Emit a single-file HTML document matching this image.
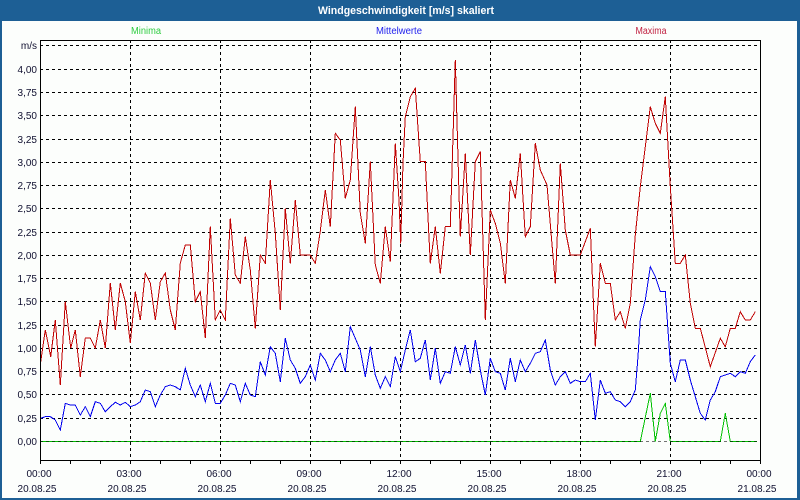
<!DOCTYPE html>
<html><head><meta charset="utf-8"><style>
html,body{margin:0;padding:0;width:800px;height:500px;overflow:hidden;background:#fcfefc;}
svg{display:block;}
text{font-family:"Liberation Sans",sans-serif;}
</style></head><body>
<svg width="800" height="500" viewBox="0 0 800 500" xmlns="http://www.w3.org/2000/svg">
<rect x="0" y="0" width="800" height="500" fill="#1d5f95"/>
<rect x="2" y="21" width="795" height="477" fill="#fcfefc"/>
<text x="406" y="14" fill="#ffffff" font-size="11" font-weight="bold" text-anchor="middle" textLength="176" lengthAdjust="spacingAndGlyphs">Windgeschwindigkeit [m/s] skaliert</text>
<text x="146" y="34" fill="#2ecc40" font-size="10" text-anchor="middle" textLength="30" lengthAdjust="spacingAndGlyphs">Minima</text>
<text x="399" y="34" fill="#2020ee" font-size="10" text-anchor="middle" textLength="46" lengthAdjust="spacingAndGlyphs">Mittelwerte</text>
<text x="651" y="34" fill="#c02040" font-size="10" text-anchor="middle" textLength="31" lengthAdjust="spacingAndGlyphs">Maxima</text>
<g stroke="#000" stroke-width="1" stroke-dasharray="3,3" shape-rendering="crispEdges" fill="none">
<path d="M40 45.5H760M40 69.5H760M40 92.5H760M40 115.5H760M40 139.5H760M40 162.5H760M40 185.5H760M40 208.5H760M40 232.5H760M40 255.5H760M40 278.5H760M40 301.5H760M40 325.5H760M40 348.5H760M40 371.5H760M40 394.5H760M40 418.5H760"/>
<path d="M130.5 40V460M220.5 40V460M310.5 40V460M400.5 40V460M490.5 40V460M580.5 40V460M670.5 40V460"/>
</g>
<g fill="none" stroke-width="1" stroke-linejoin="miter" shape-rendering="crispEdges">
<polyline stroke="#00c000" points="40,441.5 640.3,441.5 650.3,393.3 655.3,441.5 660.3,413.3 665.3,403.3 670.3,441.5 720.3,441.5 725.3,413.3 730.3,441.5 757,441.5"/>
<polyline stroke="#0000ee" points="40.7,418.3 45.3,416.7 50.3,416.7 55.3,420 60.3,430 65.3,403.3 70.3,405 75.3,405 80.3,415 85.3,406.7 90.3,416.7 95.3,401.7 100.3,403.3 105.3,411.7 110.3,406.7 115.3,402.3 120.3,405 125.3,402.3 130.3,406.7 135.3,405 140.3,401.7 145.3,390 150.3,391.7 155.3,406.7 160.3,395 165.3,386.7 170.3,385 175.3,386.7 180.3,390 185.3,368.3 190.3,385 195.3,396.7 200.3,385 205.3,401.7 210.3,383.3 215.3,403.3 220.3,403.3 225.3,395 230.3,383.3 235.3,385 240.3,401.7 245.3,383.3 250.3,395 255.3,396.7 260.3,361.7 265.3,375 270.3,346.7 275.3,353.3 280.3,381.7 285.3,338.3 290.3,360 295.3,368.3 300.3,383.3 305.3,376.7 310.3,365 315.3,380 320.3,353.3 325.3,360 330.3,371.7 335.3,360 340.3,353.3 345.3,371.7 350.3,326.7 355.3,338.3 360.3,350 365.3,376.7 370.3,346.7 375.3,375 380.3,388.3 385.3,376.7 390.3,386.7 395.3,356.7 400.3,371.7 405.3,350 410.3,330 415.3,361.7 420.3,358.3 425.3,340 430.3,380 435.3,348.3 440.3,383.3 445.3,371.7 450.3,373.3 455.3,346.7 460.3,365 465.3,345 470.3,373.3 475.3,340 480.3,370 485.3,395 490.3,358.3 495.3,371.7 500.3,373.3 505.3,390 510.3,358.3 515.3,381.7 520.3,360 525.3,371.7 530.3,363.3 535.3,353.3 540.3,351.7 545.3,340 550.3,370 555.3,385 560.3,376.7 565.3,371.7 570.3,383.3 575.3,380 580.3,381.7 585.3,381.7 590.3,373.3 595.3,420 600.3,380 605.3,393.3 610.3,391.7 615.3,400 620.3,401.7 625.3,406.7 630.3,401.7 635.3,390 638,356.7 640.3,320 645.3,300 650.3,266.7 655.3,276.7 660.3,291.7 665.3,291.7 670.3,363.3 675.3,381.7 680.3,360 685.3,360 690.3,380 695.3,396.7 700.3,413.3 705.3,420 710.3,400 715.3,391.7 720.3,376.7 725.3,375 730.3,373.3 735.3,376.7 740.3,371.7 745.3,373.3 750.3,361.7 755.3,355"/>
<polyline stroke="#c00000" points="40.7,361.7 45.3,330 50.7,356.7 55.3,320 60.3,385 65.3,301.7 70.7,348 75.3,330 80.3,376.7 85.3,338 90.3,338 95.3,348 100.3,320 105.3,348 110.3,283 115.3,330 120.3,283 125.3,301.7 130.3,343 135.3,291.7 140.3,320 145.3,273 150.3,283 155.3,320 160.3,281.7 165.3,273 170.3,310 175.3,330 180.3,263 185.3,245 190.3,245 195.3,301.7 200.3,291.7 205.3,338 210.3,226.7 215.3,320 220.3,310 225.3,320 230.3,218.3 235.3,275 240.3,283.3 245.3,236.7 250.3,270 255.3,328.3 260.3,255 265.3,263.3 270.3,180 275.3,233.3 280.3,310 285.3,208.3 290.3,263.3 295.3,200 300.3,255 310.3,255 315.3,263.3 320.3,231 325.3,190 330.3,226.7 335.3,133.3 340.3,140 343,172 345.3,198.3 350.3,180 355.3,106.7 360.3,213.3 365.3,243.3 370.3,161.7 375.3,265 380.3,283.3 385.3,226.7 390.3,261.7 395.3,143.3 399,200 400.7,243.3 403,163 405.3,116.7 410.3,96.7 415.3,88.3 420.3,161.7 425.3,161.7 428.7,231.7 430.3,263.3 435.3,226.7 440.3,273.3 445.3,226.7 450.3,226.7 455.3,60 458.7,183 460.3,236.7 465.3,153.3 470.3,255 475.3,161.7 480.3,151.7 485.3,320 490.3,210 495.3,223.3 500.3,243 505.3,283.3 510.3,180 515.3,198.3 520.3,153.3 525.3,236.7 530.3,226.7 535.3,143.3 540.3,170 547,185 555.3,283.3 560.3,163.3 565.3,230 570.3,255 580.3,255 585.3,241.7 590.3,228.3 595.3,346.7 600.3,263.3 605.3,283.3 610.3,283.3 615.3,320 620.3,311.7 625.3,328.3 630.3,303.3 635.3,235 640.3,186.7 650.3,106.7 655.3,123.3 660.3,133.3 665.3,96.7 670.3,186.7 675.3,263.3 680.3,263.3 685.3,255 690.3,303.3 695.3,328.3 700.3,328.3 710.3,366.7 720.3,338.3 725.3,346.7 730.3,328.3 735.3,328.3 740.3,311.7 745.3,320 750.3,320 755.3,311.7"/>
</g>
<path d="M40 441.5H760" stroke="#000" stroke-width="1" stroke-dasharray="3,3" stroke-opacity="0.55" shape-rendering="crispEdges"/>
<g stroke="#000" stroke-width="1" fill="none" shape-rendering="crispEdges">
<path d="M40.5 40.5H760.5V460.5H40.5Z"/>
<path d="M40.5 460V464M70.5 460V464M100.5 460V464M130.5 460V464M160.5 460V464M190.5 460V464M220.5 460V464M250.5 460V464M280.5 460V464M310.5 460V464M340.5 460V464M370.5 460V464M400.5 460V464M430.5 460V464M460.5 460V464M490.5 460V464M520.5 460V464M550.5 460V464M580.5 460V464M610.5 460V464M640.5 460V464M670.5 460V464M700.5 460V464M730.5 460V464M760.5 460V464"/>
</g>
<g fill="#101030" font-size="10" text-anchor="end">
<text x="37" y="49">m/s</text>
<text x="37" y="73">4,00</text>
<text x="37" y="96">3,75</text>
<text x="37" y="119">3,50</text>
<text x="37" y="143">3,25</text>
<text x="37" y="166">3,00</text>
<text x="37" y="189">2,75</text>
<text x="37" y="212">2,50</text>
<text x="37" y="236">2,25</text>
<text x="37" y="259">2,00</text>
<text x="37" y="282">1,75</text>
<text x="37" y="305">1,50</text>
<text x="37" y="329">1,25</text>
<text x="37" y="352">1,00</text>
<text x="37" y="375">0,75</text>
<text x="37" y="398">0,50</text>
<text x="37" y="422">0,25</text>
<text x="37" y="445">0,00</text>
</g>
<g fill="#101030" font-size="10" text-anchor="middle">
<text x="39" y="477">00:00</text><text x="37" y="492">20.08.25</text>
<text x="129" y="477">03:00</text><text x="127" y="492">20.08.25</text>
<text x="219" y="477">06:00</text><text x="217" y="492">20.08.25</text>
<text x="309" y="477">09:00</text><text x="307" y="492">20.08.25</text>
<text x="399" y="477">12:00</text><text x="397" y="492">20.08.25</text>
<text x="489" y="477">15:00</text><text x="487" y="492">20.08.25</text>
<text x="579" y="477">18:00</text><text x="577" y="492">20.08.25</text>
<text x="669" y="477">21:00</text><text x="667" y="492">20.08.25</text>
<text x="759" y="477">00:00</text><text x="757" y="492">21.08.25</text>
</g>
</svg>
</body></html>
